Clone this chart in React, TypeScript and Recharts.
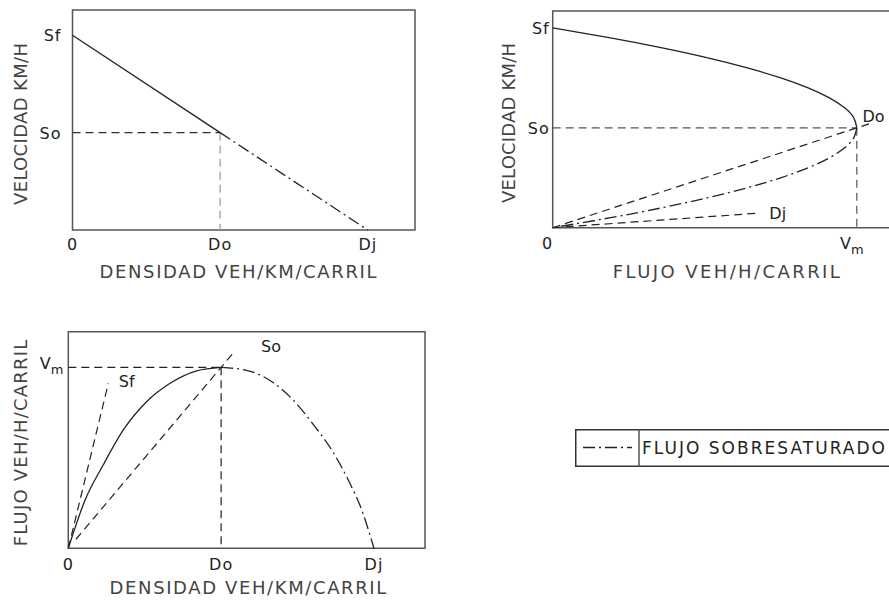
import React from 'react';
import { LineChart, Line, XAxis, YAxis, ReferenceLine, ReferenceArea, ReferenceDot, Legend } from 'recharts';

// Panel 1: velocidad vs densidad (x = densidad, y = velocidad)
const p1Free = [{ x: 0, y: 100 }, { x: 50, y: 50 }];
const p1Jam = [{ x: 50, y: 50 }, { x: 100, y: 0 }];
const p1GuideH = [{ x: 0, y: 50 }, { x: 50, y: 50 }];
const p1GuideV = [{ x: 50, y: 50 }, { x: 50, y: 0 }];
const p1XTicks = [0, 50, 100];
const p1XLabels = ['0', 'Do', 'Dj'];
const p1YTicks = [50, 100];
const p1YLabels = ['So', 'Sf'];

// Panel 2: velocidad vs flujo (x = flujo, y = velocidad)
const p2Free = [
  { x: 0, y: 100 }, { x: 19, y: 95 }, { x: 36, y: 90 }, { x: 51, y: 85 }, { x: 64, y: 80 }, { x: 75, y: 75 },
  { x: 84, y: 70 }, { x: 91, y: 65 }, { x: 96, y: 60 }, { x: 99, y: 55 }, { x: 100, y: 50 },
];
const p2Jam = [
  { x: 100, y: 50 }, { x: 99, y: 45 }, { x: 96, y: 40 }, { x: 91, y: 35 }, { x: 84, y: 30 }, { x: 75, y: 25 },
  { x: 64, y: 20 }, { x: 51, y: 15 }, { x: 36, y: 10 }, { x: 19, y: 5 }, { x: 0, y: 0 },
];
const p2RayDo = [{ x: 0, y: 0 }, { x: 104, y: 52 }];
const p2RayDj = [{ x: 0, y: 0 }, { x: 67, y: 7.2 }];
const p2GuideH = [{ x: 0, y: 50 }, { x: 100, y: 50 }];
const p2GuideV = [{ x: 100, y: 50 }, { x: 100, y: 0 }];
const p2Notes = [{ x: 105.5, y: 56, text: 'Do' }, { x: 74, y: 7.4, text: 'Dj' }];
const p2XTicks = [0, 100];
const p2XLabels = ['0', 'Vm'];
const p2YTicks = [50, 100];
const p2YLabels = ['So', 'Sf'];

// Panel 3: flujo vs densidad (x = densidad, y = flujo)
const p3Free = [
  { x: 0, y: 0 }, { x: 5.5, y: 26.7 }, { x: 11.4, y: 46 }, { x: 18, y: 65.4 }, { x: 25.6, y: 81 },
  { x: 33.3, y: 91.2 }, { x: 42, y: 98.1 }, { x: 50, y: 100 },
];
const p3Jam = [
  { x: 50, y: 100 }, { x: 58.9, y: 98.1 }, { x: 67.1, y: 91.5 }, { x: 73.6, y: 81.9 }, { x: 80.7, y: 67.2 },
  { x: 86.2, y: 54.3 }, { x: 91.6, y: 37.7 }, { x: 96, y: 21.2 }, { x: 100, y: 0 },
];
const p3RaySf = [{ x: 0, y: 0 }, { x: 13.1, y: 91.2 }];
const p3RaySo = [{ x: 2.5, y: 5 }, { x: 54.5, y: 109 }];
const p3GuideH = [{ x: 0, y: 100 }, { x: 50, y: 100 }];
const p3GuideV = [{ x: 50, y: 100 }, { x: 50, y: 0 }];
const p3Notes = [{ x: 19.1, y: 92.5, text: 'Sf' }, { x: 66.3, y: 111.4, text: 'So' }];
const p3XTicks = [0, 50, 100];
const p3XLabels = ['0', 'Do', 'Dj'];
const p3YTicks = [100];
const p3YLabels = ['Vm'];

const FONT = '"DejaVu Sans", sans-serif';
const INK = '#222';
const DASH = '8 5';
const DASH_DOT = '12 4 2 4';

const tickRenderer = (ticks: number[], labels: string[], side: 'x' | 'y', dx: number, dy: number) => (props: any) => {
  const text = labels[ticks.indexOf(props.payload.value)];
  const anchor = side === 'x' ? 'middle' : 'end';
  if (text === 'Vm') {
    return (
      <text x={props.x + dx} y={props.y + dy} textAnchor={anchor} fontFamily={FONT} fontSize={16} fill={INK}>
        <tspan>V</tspan>
        <tspan fontSize={13} dy={5}>m</tspan>
      </text>
    );
  }
  return (
    <text x={props.x + dx} y={props.y + dy} textAnchor={anchor} fontFamily={FONT} fontSize={16} letterSpacing={1} fill={INK}>
      {text}
    </text>
  );
};

const xTitle = (text: string, dx: number, dy: number, len: number) => (props: any) => {
  const { x, y, width } = props.viewBox;
  return (
    <text x={x + width / 2 + dx} y={y + dy} textAnchor="middle" fontFamily={FONT} fontSize={18} fill="#444"
      textLength={len} lengthAdjust="spacing">
      {text}
    </text>
  );
};

const yTitle = (text: string, bx: number, dy: number, len: number) => (props: any) => {
  const { y, height } = props.viewBox;
  const cy = y + height / 2 + dy;
  return (
    <text x={bx} y={cy} transform={`rotate(-90, ${bx}, ${cy})`} textAnchor="middle" fontFamily={FONT} fontSize={18}
      fill="#444" textLength={len} lengthAdjust="spacing">
      {text}
    </text>
  );
};

const noteLabel = (text: string) => ({ value: text, position: 'center' as const, fill: INK, fontSize: 16, fontFamily: FONT });

const renderLegend = (props: any) => {
  const item = (props.payload || [])[0];
  const name = item ? item.value : 'FLUJO  SOBRESATURADO';
  return (
    <svg width={330} height={38}>
      <rect x={0.75} y={0.75} width={340} height={36.5} fill="none" stroke="#333" strokeWidth={1.5} />
      <line x1={64} y1={0} x2={64} y2={38} stroke="#555" strokeWidth={1.5} />
      <line x1={8} y1={18.5} x2={57} y2={18.5} stroke={INK} strokeWidth={1.3} strokeDasharray={DASH_DOT} />
      <text x={67} y={25} fontFamily={FONT} fontSize={17} fill={INK} textLength={243} lengthAdjust="spacing">
        {name}
      </text>
    </svg>
  );
};

const Panel1 = () => (
  <LineChart width={440} height={290} margin={{ top: 10, right: 25, bottom: 0, left: 0 }}>
    <XAxis type="number" dataKey="x" domain={[0, 116]} ticks={p1XTicks} height={60} axisLine={false} tickLine={false}
      tickSize={0} tickMargin={0} tick={tickRenderer(p1XTicks, p1XLabels, 'x', 0, 20)} interval={0}
      label={{ content: xTitle('DENSIDAD  VEH/KM/CARRIL', -5.75, 48, 277) }} />
    <YAxis type="number" dataKey="y" domain={[0, 113]} ticks={p1YTicks} width={72.5} axisLine={false} tickLine={false}
      tickSize={0} tickMargin={0} tick={tickRenderer(p1YTicks, p1YLabels, 'y', -11, 6)} interval={0}
      label={{ content: yTitle('VELOCIDAD  KM/H', 27, 4, 162) }} />
    <ReferenceArea x1={0} x2={116} y1={0} y2={113} fill="none" stroke="#555" strokeWidth={1.5} />
    <ReferenceLine segment={p1GuideH} stroke="#333" strokeWidth={1.2} strokeDasharray={DASH} />
    <ReferenceLine segment={p1GuideV} stroke="#999" strokeWidth={1.2} strokeDasharray={DASH} />
    <Line data={p1Free} dataKey="y" type="linear" stroke={INK} strokeWidth={1.3} dot={false} activeDot={false} isAnimationActive={false} legendType="none" />
    <Line data={p1Jam} dataKey="y" type="linear" stroke={INK} strokeWidth={1.3} strokeDasharray={DASH_DOT} dot={false} activeDot={false} isAnimationActive={false} legendType="none" />
  </LineChart>
);

const Panel2 = () => (
  <LineChart width={460} height={290} margin={{ top: 11, right: 0, bottom: 0, left: 0 }}>
    <XAxis type="number" dataKey="x" domain={[0, 114.2]} ticks={p2XTicks} height={62.3} axisLine={false} tickLine={false}
      tickSize={0} tickMargin={0} tick={tickRenderer(p2XTicks, p2XLabels, 'x', -5, 21)} interval={0}
      label={{ content: xTitle('FLUJO  VEH/H/CARRIL', 0, 50.3, 227) }} />
    <YAxis type="number" dataKey="y" domain={[0, 108.5]} ticks={p2YTicks} width={112.7} axisLine={false} tickLine={false}
      tickSize={0} tickMargin={0} tick={tickRenderer(p2YTicks, p2YLabels, 'y', -3, 6)} interval={0}
      label={{ content: yTitle('VELOCIDAD  KM/H', 75, 3.6, 160) }} />
    <ReferenceArea x1={0} x2={114.2} y1={0} y2={108.5} fill="none" stroke="#555" strokeWidth={1.5} />
    <ReferenceLine segment={p2GuideH} stroke="#555" strokeWidth={1.2} strokeDasharray={DASH} />
    <ReferenceLine segment={p2GuideV} stroke="#555" strokeWidth={1.2} strokeDasharray={DASH} />
    <Line data={p2RayDo} dataKey="y" type="linear" stroke={INK} strokeWidth={1.2} strokeDasharray={DASH} dot={false} activeDot={false} isAnimationActive={false} legendType="none" />
    <Line data={p2RayDj} dataKey="y" type="linear" stroke={INK} strokeWidth={1.2} strokeDasharray={DASH} dot={false} activeDot={false} isAnimationActive={false} legendType="none" />
    <Line data={p2Free} dataKey="y" type="natural" stroke={INK} strokeWidth={1.3} dot={false} activeDot={false} isAnimationActive={false} legendType="none" />
    <Line data={p2Jam} dataKey="y" type="natural" stroke={INK} strokeWidth={1.3} strokeDasharray={DASH_DOT} dot={false} activeDot={false} isAnimationActive={false} legendType="none" />
    {p2Notes.map((n) => (
      <ReferenceDot key={n.text} x={n.x} y={n.y} r={0} fill="none" stroke="none" label={noteLabel(n.text)} />
    ))}
  </LineChart>
);

const Panel3 = () => (
  <LineChart width={440} height={310} margin={{ top: 41.7, right: 15, bottom: 0, left: 0 }}>
    <XAxis type="number" dataKey="x" domain={[0, 116.7]} ticks={p3XTicks} height={51.7} axisLine={false} tickLine={false}
      tickSize={0} tickMargin={0} tick={tickRenderer(p3XTicks, p3XLabels, 'x', 0, 22)} interval={0}
      label={{ content: xTitle('DENSIDAD  VEH/KM/CARRIL', 1.3, 45.5, 276.7) }} />
    <YAxis type="number" dataKey="y" domain={[0, 119.7]} ticks={p3YTicks} width={68.3} axisLine={false} tickLine={false}
      tickSize={0} tickMargin={0} tick={tickRenderer(p3YTicks, p3YLabels, 'y', -5, 2)} interval={0}
      label={{ content: yTitle('FLUJO  VEH/H/CARRIL', 27, 3, 206.7) }} />
    <ReferenceArea x1={0} x2={116.7} y1={0} y2={119.7} fill="none" stroke="#555" strokeWidth={1.5} />
    <ReferenceLine segment={p3GuideH} stroke={INK} strokeWidth={1.2} strokeDasharray={DASH} />
    <ReferenceLine segment={p3GuideV} stroke={INK} strokeWidth={1.2} strokeDasharray={DASH} />
    <Line data={p3RaySf} dataKey="y" type="linear" stroke={INK} strokeWidth={1.2} strokeDasharray={DASH} dot={false} activeDot={false} isAnimationActive={false} legendType="none" />
    <Line data={p3RaySo} dataKey="y" type="linear" stroke={INK} strokeWidth={1.2} strokeDasharray={DASH} dot={false} activeDot={false} isAnimationActive={false} legendType="none" />
    <Line data={p3Free} dataKey="y" type="monotone" stroke={INK} strokeWidth={1.3} dot={false} activeDot={false} isAnimationActive={false} legendType="none" />
    <Line data={p3Jam} dataKey="y" name="FLUJO  SOBRESATURADO" type="monotone" stroke={INK} strokeWidth={1.3} strokeDasharray={DASH_DOT} dot={false} activeDot={false} isAnimationActive={false} />
    {p3Notes.map((n) => (
      <ReferenceDot key={n.text} x={n.x} y={n.y} r={0} fill="none" stroke="none" label={noteLabel(n.text)} />
    ))}
    <Legend content={renderLegend} layout="horizontal" verticalAlign="middle" align="center"
      wrapperStyle={{ left: 575, top: 139.3, width: 330, height: 38 }} />
  </LineChart>
);

export default function App() {
  return (
    <div style={{ position: 'absolute', left: 0, top: 0, width: 889, height: 600, overflow: 'hidden', background: '#fff' }}>
      <div style={{ position: 'absolute', left: 0, top: 0 }}>
        <Panel1 />
      </div>
      <div style={{ position: 'absolute', left: 440, top: 0 }}>
        <Panel2 />
      </div>
      <div style={{ position: 'absolute', left: 0, top: 290 }}>
        <Panel3 />
      </div>
    </div>
  );
}
